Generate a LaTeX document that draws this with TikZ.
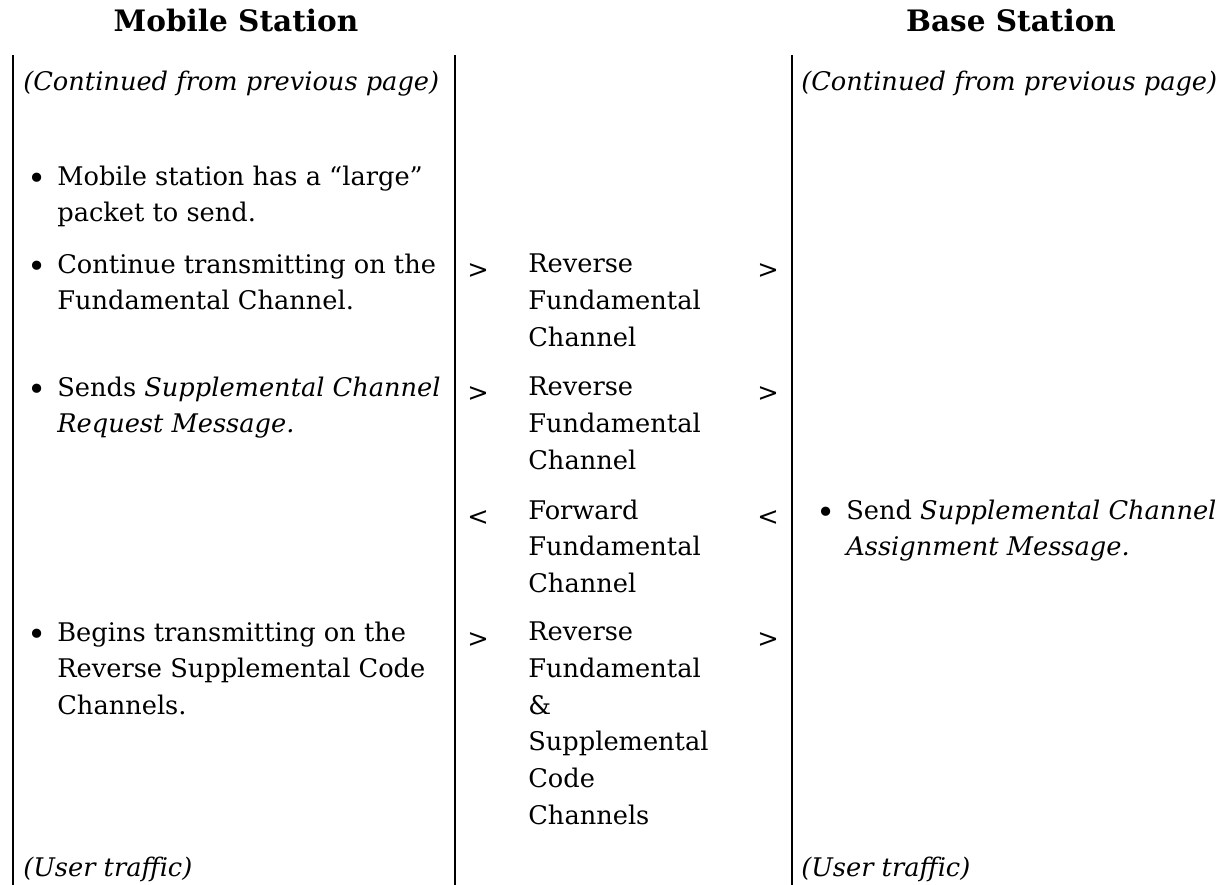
\documentclass[tikz,border=0pt]{standalone}
\usepackage{fontspec}
\setmainfont{DejaVu Serif}
\usetikzlibrary{positioning}

\newcommand{\cellfont}{\fontsize{14.6}{21}\selectfont}
\newcommand{\itemdot}{\raisebox{0.6pt}{\fontsize{18}{21}\selectfont •}}
\tikzset{
  cell/.style={anchor=north west, align=left, inner sep=0pt, font=\cellfont,
    yshift=14.7pt, execute at begin node=\strut},
  sym/.style={anchor=base west, inner sep=0pt, font=\cellfont},
  head/.style={anchor=base, inner sep=0pt, font=\fontsize{16.8}{20}\selectfont\bfseries},
  rule/.style={line width=1.1pt}
}

\begin{document}
\begin{tikzpicture}[x=0.2mm, y=-0.2mm]
\useasboundingbox (0,0) rectangle (1227,885);
% column headers
\node[head] (ms) at (236,32) {Mobile Station};
\node[head] (bs) at (1011,32) {Base Station};
% column rules
\foreach \x/\n in {13/l, 455/m, 792/r}{
  \coordinate (top\n) at (\x,55);
  \coordinate (bot\n) at (\x,885);
  \draw[rule] (top\n) -- (bot\n);
}
% first and last lines
\node[sym] (contl) at (23,91) {\textit{(Continued from previous page)}};
\node[sym] (contr) at (801,91) {\textit{(Continued from previous page)}};
\node[sym] (userl) at (23,876) {\textit{(User traffic)}};
\node[sym] (userr) at (801,876) {\textit{(User traffic)}};
% mobile station steps
\foreach \y/\n in {191/1, 279/2, 402/3, 647/5}
  \node[sym] (dot\n) at (27,\y) {\itemdot};
\node[cell] (ms1) at (57,191) {Mobile station has a “large”\\packet to send.};
\node[cell] (ms2) at (57,279) {Continue transmitting on the\\Fundamental Channel.};
\node[cell] (ms3) at (57,402) {Sends \textit{Supplemental Channel}\\\textit{Request Message.}};
\node[cell] (ms5) at (57,647) {Begins transmitting on the\\Reverse Supplemental Code\\Channels.};
% base station step
\node[sym] (dot4) at (816,525) {\itemdot};
\node[cell] (bs4) at (846,525) {Send \textit{Supplemental Channel}\\\textit{Assignment Message.}};
% channels
\foreach \y/\n/\s in {279/2/>, 402/3/>, 525/4/<, 647/5/>}{
  \node[sym] (in\n) at (467,\y) {\s};
  \node[sym] (out\n) at (757,\y) {\s};
}
\node[cell] (ch2) at (528,279) {Reverse\\Fundamental\\Channel};
\node[cell] (ch3) at (528,402) {Reverse\\Fundamental\\Channel};
\node[cell] (ch4) at (528,525) {Forward\\Fundamental\\Channel};
\node[cell] (ch5) at (528,647) {Reverse\\Fundamental\\\&\\Supplemental\\Code\\Channels};
\end{tikzpicture}
\end{document}
